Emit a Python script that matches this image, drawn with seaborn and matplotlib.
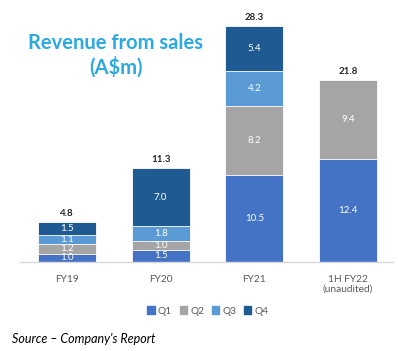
import matplotlib
matplotlib.use("Agg")
import matplotlib.pyplot as plt
import matplotlib.patches as mpatches
import numpy as np
import pandas as pd
import seaborn as sns

# data
periods = ["FY19", "FY20", "FY21", "1H FY22\n(unaudited)"]
quarters = ["Q1", "Q2", "Q3", "Q4"]
q1 = [1.0, 1.5, 10.5, 12.4]
q2 = [1.2, 1.0, 8.2, 9.4]
q3 = [1.1, 1.8, 4.2, 0.0]
q4 = [1.5, 7.0, 5.4, 0.0]
totals = [4.8, 11.3, 28.3, 21.8]

colors = {"Q1": "#4472C4", "Q2": "#A5A5A5", "Q3": "#5B9BD5", "Q4": "#1F5A92"}

sns.set_style("white")
plt.rcParams["font.family"] = ["Lato", "DejaVu Sans"]

df = pd.DataFrame({"Period": periods, "Q1": q1, "Q2": q2, "Q3": q3, "Q4": q4})
cum = df[quarters].cumsum(axis=1)

fig = plt.figure(figsize=(3.98, 3.51), dpi=100)
W, H = 398, 351
ax = fig.add_axes([20 / W, 1 - 262 / H, 373 / W, 252 / H])

# draw stacked bars by overdrawing cumulative sums, tallest first
for q in reversed(quarters):
    sns.barplot(x=df["Period"], y=cum[q], color=colors[q], width=0.62,
                edgecolor="white", linewidth=0.6, ax=ax, saturation=1)

# segment labels
for i in range(len(periods)):
    base = 0
    for q in quarters:
        v = df[q][i]
        if v > 0:
            ax.text(i, base + v / 2, f"{v:.1f}", ha="center", va="center",
                    color="white", fontsize=7)
        base += v
    ax.text(i, totals[i] + 0.5, f"{totals[i]:.1f}", ha="center", va="bottom",
            color="#262626", fontsize=7, fontweight="bold")

ax.set_ylim(0, 30.25)
ax.set_xlim(-0.5, 3.48)
ax.set_xlabel("")
ax.set_ylabel("")
ax.set_yticks([])
ax.tick_params(axis="x", length=0, pad=9, labelsize=7.3, labelcolor="#595959")
for s in ["top", "left", "right"]:
    ax.spines[s].set_visible(False)
ax.spines["bottom"].set_color("#D9D9D9")
ax.spines["bottom"].set_linewidth(1)

fig.text(116 / W, 1 - 55 / H, "Revenue from sales\n(A$m)", ha="center", va="center",
         color="#2CA9E1", fontsize=14.5, fontweight="bold", linespacing=1.2)

handles = [mpatches.Patch(color=colors[q], label=q) for q in quarters]
fig.legend(handles=handles, loc="center", bbox_to_anchor=(208 / W, 1 - 311 / H),
           ncol=4, frameon=False, fontsize=7.3, handlelength=0.7, handleheight=0.7,
           columnspacing=0.8, handletextpad=0.3, labelcolor="#595959")

fig.text(12 / W, 1 - 339 / H, "Source \u2013 Company's Report", ha="left", va="center",
         fontsize=9, style="italic", color="black")

fig.savefig("out.png", dpi=100)
